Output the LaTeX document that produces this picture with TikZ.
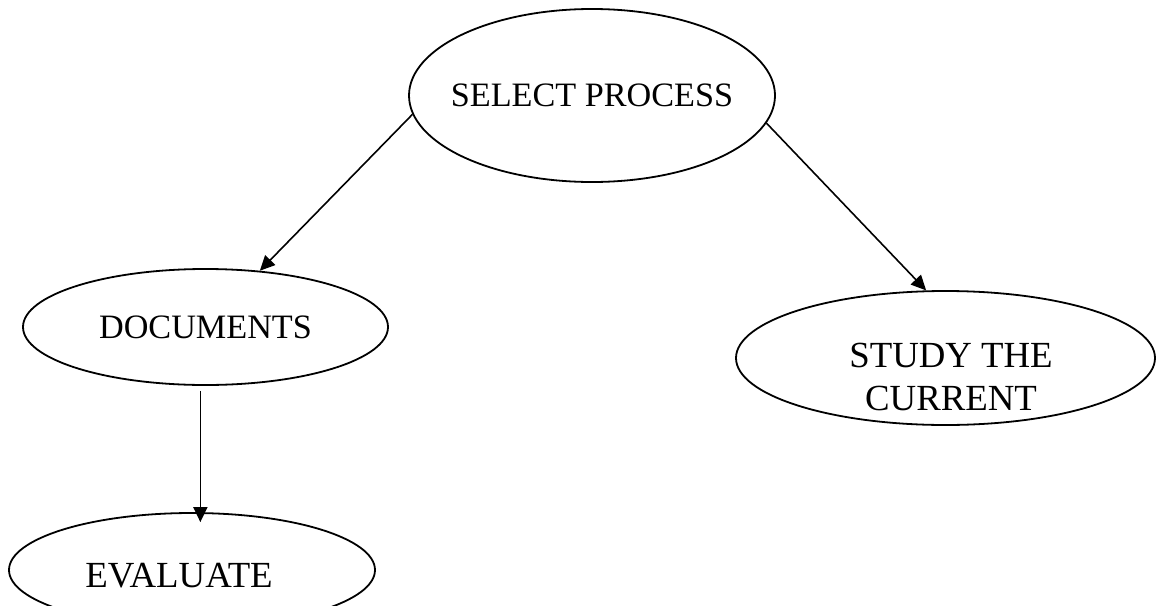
\documentclass[tikz,border=0pt]{standalone}
\usepackage{fontspec}
\setmainfont{Liberation Serif}
\usetikzlibrary{arrows.meta,shapes.geometric,calc}
\tikzset{>={Triangle[length=7.5pt,width=7pt]}}
\tikzset{
  % ellipse drawn round each step
  stage/.style={draw, ellipse, line width=0.9pt, inner ysep=0pt, inner xsep=-12pt, align=center,
    font=\fontsize{17.1}{20}\selectfont},
  bigstage/.style={stage, font=\fontsize{18.4}{21.5}\selectfont},
  % arrow from one step to the next
  flow/.style={->, line width=0.8pt},
}
\begin{document}
\begin{tikzpicture}[x=0.5pt, y=-0.5pt]
                \useasboundingbox (0,0) rectangle (1156,605);

                \node[stage, minimum width=183pt, minimum height=86.5pt] (select) at (592,95.5) {SELECT PROCESS};
                \node[stage, minimum width=182.5pt, minimum height=58pt] (docs) at (205.5,327) {DOCUMENTS};
                \node[bigstage, minimum width=209.5pt, minimum height=67pt, inner ysep=-8pt, text height=52pt, text depth=0pt] (study) at (945.5,358) {\hspace*{5.5pt}STUDY THE\\\hspace*{5.5pt}CURRENT};
                \node[bigstage, minimum width=183pt, minimum height=57pt, text height=17.2pt, text depth=0pt] (eval) at (192,570) {EVALUATE\hspace*{13pt}};

                \coordinate (docout) at ([yshift=-2.5pt]docs.265);

                \draw[flow] (select.186) -- (docs.46);
                \draw[flow] (select.351) -- (study.106);
                \draw[flow, shorten >=-5pt] (docout) -- (docout |- eval.north);
            \end{tikzpicture}
\end{document}
